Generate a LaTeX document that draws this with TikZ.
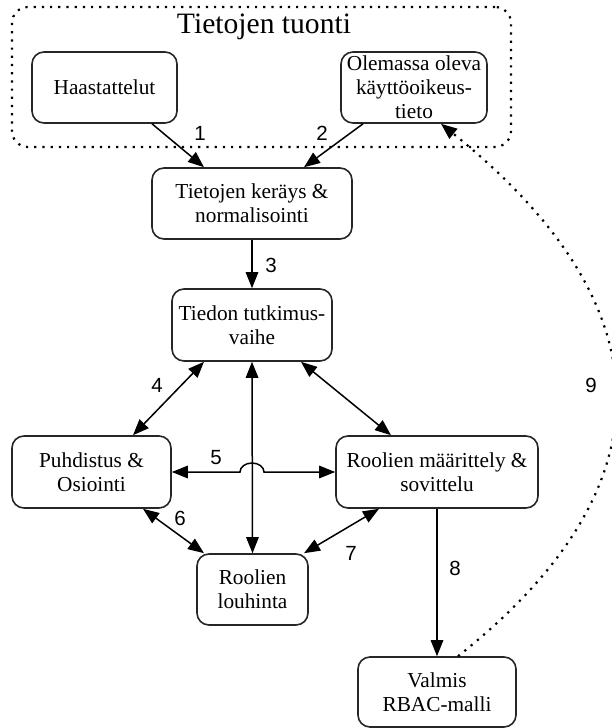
\documentclass[tikz,border=0pt]{standalone}
\usepackage{fontspec}
\setmainfont{Liberation Serif}
\newfontfamily\numfont{Liberation Sans}
\usetikzlibrary{arrows.meta,calc}
\begin{document}
\begin{tikzpicture}[x=1pt,y=-1pt,
  box/.style={draw=black!85, line width=1.6pt, rounded corners=12pt, align=center,
    font=\fontsize{21.3}{24}\selectfont, inner sep=0pt},
  conn/.style={line width=1.5pt, -{Triangle[length=16pt,width=12.5pt]}},
  bi/.style={line width=1.5pt, {Triangle[length=16pt,width=12.5pt]}-{Triangle[length=16pt,width=12.5pt]}},
  num/.style={font=\numfont\fontsize{20.5}{20.5}\selectfont, inner sep=0pt},
  dots/.style={line width=2.2pt, dash pattern=on 2.2pt off 6pt}]
\useasboundingbox (0,0) rectangle (611,728);
% container
\node[draw, dots, rounded corners=16pt, minimum width=499pt, minimum height=140pt] (C) at (261.5,77) {};
\node[anchor=base, font=\fontsize{29.6}{30}\selectfont, inner sep=0pt] (title) at (264,33) {Tietojen tuonti};
% boxes
\node[box, minimum width=145pt, minimum height=71pt] (H) at (104.5,87.5) {Haastattelut};
\node[box, minimum width=146pt, minimum height=71pt] (O) at (414,87.5) {Olemassa oleva\\käyttöoikeus-\\tieto};
\node[box, minimum width=200pt, minimum height=71pt] (K) at (252,203.5) {Tietojen keräys \&\\normalisointi};
\node[box, minimum width=160pt, minimum height=72pt] (T) at (252,325) {Tiedon tutkimus-\\vaihe};
\node[box, minimum width=159pt, minimum height=72pt] (P) at (91.5,472) {Puhdistus \&\\Osiointi};
\node[box, minimum width=202pt, minimum height=72pt] (M) at (437,472) {Roolien määrittely \&\\sovittelu};
\node[box, minimum width=111pt, minimum height=71pt] (L) at (252.5,589.5) {Roolien\\louhinta};
\node[box, minimum width=158pt, minimum height=70pt] (V) at (437,692) {Valmis\\RBAC-malli};
% connectors
\draw[conn] ([xshift=47.5pt]H.south) -- ([xshift=-48pt]K.north);
\draw[conn] ([xshift=-51pt]O.south) -- ([xshift=52pt]K.north);
\draw[conn] (K.south) -- (T.north);
\draw[bi] ([xshift=41.5pt]P.north) -- ([xshift=-48pt]T.south);
\draw[bi] ([xshift=49pt]T.south) -- ([xshift=-46pt]M.north);
\draw[bi] (T.south) -- (L.north);
\draw[bi] (P.east) -- ($(P.east -| T.south)+(-12pt,0)$)
  arc[start angle=180, end angle=0, x radius=12pt, y radius=9pt] -- (M.west);
\draw[bi] ([xshift=51.5pt]P.south) -- ([xshift=-48.5pt]L.north);
\draw[bi] ([xshift=-58pt]M.south) -- ([xshift=51.5pt]L.north);
\draw[conn] (M.south) -- (V.north);
\draw[dots, -{Triangle[length=16pt,width=12.5pt]}] ([xshift=21pt]V.north)
  .. controls (680,480) and (660,300) .. ([xshift=27pt]O.south);
% labels
\node[num] (n1) at (200,133) {1};
\node[num] (n2) at (322,133) {2};
\node[num] (n3) at (271,265) {3};
\node[num] (n4) at (157,385) {4};
\node[num] (n5) at (216,458) {5};
\node[num] (n6) at (180,518) {6};
\node[num] (n7) at (351,553) {7};
\node[num] (n8) at (455,568) {8};
\node[num] (n9) at (591,385) {9};
\end{tikzpicture}
\end{document}
